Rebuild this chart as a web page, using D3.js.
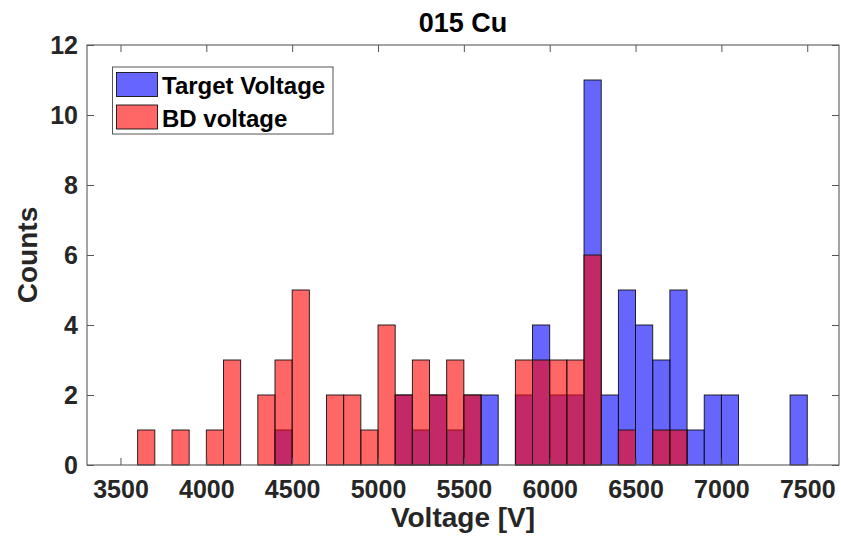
<!DOCTYPE html>
<html>
<head>
<meta charset="utf-8">
<script src="https://cdn.jsdelivr.net/npm/d3@7"></script>
<style>
  html, body { margin: 0; padding: 0; background: #fff; }
  svg text { font-family: "Liberation Sans", Arial, Helvetica, sans-serif; font-weight: bold; }
</style>
</head>
<body>
<svg id="chart" width="841" height="548"></svg>
<script>
// Histogram bins: left edges, each bin 100 V wide
const binLefts = [3600, 3700, 3800, 3900, 4000, 4100, 4200, 4300, 4400, 4500,
                  4600, 4700, 4800, 4900, 5000, 5100, 5200, 5300, 5400, 5500,
                  5600, 5700, 5800, 5900, 6000, 6100, 6200, 6300, 6400, 6500,
                  6600, 6700, 6800, 6900, 7000, 7100, 7200, 7300, 7400];
const binWidth = 100;
const targetCounts = [0, 0, 0, 0, 0, 0, 0, 0, 1, 0,
                      0, 0, 0, 0, 0, 2, 1, 2, 1, 2,
                      2, 0, 2, 4, 2, 2, 11, 2, 5, 4,
                      3, 5, 1, 2, 2, 0, 0, 0, 2];
const bdCounts = [1, 0, 1, 0, 1, 3, 0, 2, 3, 5,
                  0, 2, 2, 1, 4, 2, 3, 2, 3, 2,
                  0, 0, 3, 3, 3, 3, 6, 0, 1, 0,
                  1, 1, 0, 0, 0, 0, 0, 0, 0];
const xTicks = [3500, 4000, 4500, 5000, 5500, 6000, 6500, 7000, 7500];
const yTicks = [0, 2, 4, 6, 8, 10, 12];
const seriesNames = ["Target Voltage", "BD voltage"];
const seriesColors = ["#0000ff", "#ff0000"];
const titleText = "015 Cu";
const xLabel = "Voltage [V]";
const yLabel = "Counts";

const svg = d3.select("#chart");
const L = 87, R = 839, T = 45, B = 465;
const x = d3.scaleLinear().domain([3305, 7685]).range([L, R]);
const y = d3.scaleLinear().domain([0, 12]).range([B, T]);
const ink = "#262626";

// bars: target first, breakdown on top (both semi-transparent)
[targetCounts, bdCounts].forEach((counts, si) => {
  const data = binLefts.map((b, i) => ({ b, c: counts[i] })).filter(d => d.c > 0);
  svg.append("g").selectAll("rect").data(data).join("rect")
    .attr("x", d => x(d.b))
    .attr("width", d => x(d.b + binWidth) - x(d.b))
    .attr("y", d => y(d.c))
    .attr("height", d => y(0) - y(d.c))
    .attr("fill", seriesColors[si])
    .attr("fill-opacity", 0.6)
    .attr("stroke", "#111")
    .attr("stroke-width", 0.9);
});

// axes with inward ticks on all four sides
const fontPx = 25;
const fmt = d3.format("d");
const gx = svg.append("g").attr("transform", `translate(0,${B})`)
  .call(d3.axisBottom(x).tickValues(xTicks).tickFormat(fmt).tickSizeInner(-7).tickSizeOuter(0).tickPadding(15));
const gy = svg.append("g").attr("transform", `translate(${L},0)`)
  .call(d3.axisLeft(y).tickValues(yTicks).tickFormat(fmt).tickSizeInner(-7).tickSizeOuter(0).tickPadding(9));
const gxt = svg.append("g").attr("transform", `translate(0,${T})`)
  .call(d3.axisTop(x).tickValues(xTicks).tickSizeInner(-7).tickSizeOuter(0).tickFormat(""));
const gyr = svg.append("g").attr("transform", `translate(${R},0)`)
  .call(d3.axisRight(y).tickValues(yTicks).tickSizeInner(-7).tickSizeOuter(0).tickFormat(""));
[gx, gy, gxt, gyr].forEach(g => {
  g.select(".domain").remove();
  g.selectAll("line").attr("stroke", "#555").attr("stroke-width", 1);
  g.selectAll("text").attr("fill", ink).style("font-size", fontPx + "px")
    .style("font-family", '"Liberation Sans", Arial, sans-serif').style("font-weight", "bold");
});
svg.append("rect").attr("x", L).attr("y", T).attr("width", R - L).attr("height", B - T)
  .attr("fill", "none").attr("stroke", "#5a5a5a").attr("stroke-width", 1.1);

// title and axis labels
svg.append("text").attr("x", (L + R) / 2).attr("y", 32).attr("text-anchor", "middle")
  .style("font-size", "27px").attr("fill", "#000").text(titleText);
svg.append("text").attr("x", (L + R) / 2).attr("y", 527).attr("text-anchor", "middle")
  .style("font-size", "28px").attr("fill", ink).text(xLabel);
svg.append("text").attr("transform", `translate(37,${(T + B) / 2}) rotate(-90)`)
  .attr("text-anchor", "middle").style("font-size", "28px").attr("fill", ink).text(yLabel);

// legend
const lg = svg.append("g");
lg.append("rect").attr("x", 112.5).attr("y", 67).attr("width", 220.5).attr("height", 67)
  .attr("fill", "#fff").attr("stroke", "#555").attr("stroke-width", 1);
seriesNames.forEach((name, i) => {
  const top = 72.5 + i * 32.5;
  lg.append("rect").attr("x", 116.5).attr("y", top).attr("width", 41).attr("height", 24)
    .attr("fill", seriesColors[i]).attr("fill-opacity", 0.6)
    .attr("stroke", "#111").attr("stroke-width", 0.9);
  lg.append("text").attr("x", 162).attr("y", top + 21.5)
    .style("font-size", "24px").attr("fill", "#000").text(name);
});
</script>
</body>
</html>
